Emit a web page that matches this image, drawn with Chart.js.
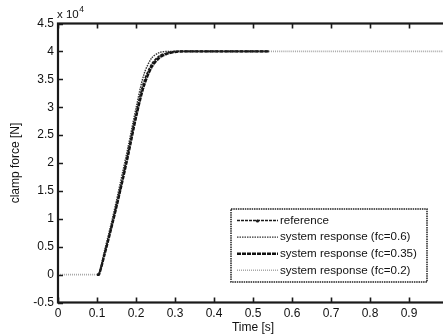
<!DOCTYPE html>
<html>
<head>
<meta charset="utf-8">
<script src="https://cdn.jsdelivr.net/npm/chart.js@4/dist/chart.umd.min.js"></script>
<style>
html,body{margin:0;padding:0;background:#fff;overflow:hidden;width:443px;height:336px;}
#wrap{position:absolute;left:0;top:0;width:450px;height:336px;}
</style>
</head>
<body>
<div id="wrap"><canvas id="c" width="450" height="336"></canvas></div>
<script>
// time samples [s]
const timeS = [0, 0.1, 0.105, 0.12, 0.14, 0.16, 0.18, 0.2, 0.22, 0.24, 0.26, 0.28, 0.3, 0.32, 0.35, 0.4, 0.45, 0.5, 0.54, 0.6, 0.7, 0.8, 0.9, 1.0];
// clamp force [N]
const referenceN = [null, 0, 0, 4000, 9500, 15500, 22000, 28800, 34500, 37700, 39200, 39700, 40000, 40000, 40000, 40000, 40000, 40000, 40000, null, null, null, null, null];
const fc060N     = [null, 0, 200, 4500, 10200, 16500, 23000, 29800, 35800, 38800, 39800, 40000, 40000, 40000, 40000, 40000, 40000, 40000, 40000, null, null, null, null, null];
const fc035N     = [null, 0, 0, 3800, 9300, 15200, 21500, 28200, 33800, 37200, 38900, 39600, 39900, 40000, 40000, 40000, 40000, 40000, 40000, null, null, null, null, null];
const fc020N     = [0, 0, 0, 3700, 9200, 15000, 21300, 28000, 33500, 37000, 38700, 39500, 39900, 40000, 40000, 40000, 40000, 40000, 40000, 40000, 40000, 40000, 40000, 40000];
const seriesLabels = ['reference', 'system response (fc=0.6)', 'system response (fc=0.35)', 'system response (fc=0.2)'];
const xTickValues = [0, 0.1, 0.2, 0.3, 0.4, 0.5, 0.6, 0.7, 0.8, 0.9];
const yTickValues = [-0.5, 0, 0.5, 1, 1.5, 2, 2.5, 3, 3.5, 4, 4.5];
const yExponent = 4;

const FONT = '"Liberation Sans", Arial, Helvetica, sans-serif';
const AXC = '#1a1a1a';

function pts(vals){ return timeS.map((t,i)=>({x:t,y:vals[i]})); }

const styles = [
  {borderColor:'#1a1a1a', borderWidth:1.6, borderDash:[3,1], marker:true},
  {borderColor:'#333', borderWidth:1.4, borderDash:[1.5,1]},
  {borderColor:'#111', borderWidth:2.4, borderDash:[4,1]},
  {borderColor:'#a8a8a8', borderWidth:1.6, borderDash:[1,1]}
];
const seriesVals = [referenceN, fc060N, fc035N, fc020N];

const datasets = seriesVals.map((v,i)=>({
  label: seriesLabels[i],
  data: pts(v),
  borderColor: styles[i].borderColor,
  borderWidth: styles[i].borderWidth,
  borderDash: styles[i].borderDash,
  pointRadius: 0,
  tension: 0.3,
  fill: false,
  spanGaps: false
}));

const framePlugin = {
  id:'frame',
  afterDraw(chart){
    const ctx = chart.ctx, a = chart.chartArea;
    const xs = chart.scales.x, ys = chart.scales.y;
    ctx.save();
    // frame
    ctx.strokeStyle = AXC; ctx.lineWidth = 2.2; ctx.setLineDash([]);
    ctx.strokeRect(a.left, a.top, a.right - a.left, a.bottom - a.top);
    // inward ticks
    ctx.lineWidth = 1.6;
    const tl = 5;
    ctx.beginPath();
    xTickValues.concat([1]).forEach(v=>{
      const px = Math.round(xs.getPixelForValue(v)) + 0.5;
      ctx.moveTo(px, a.bottom); ctx.lineTo(px, a.bottom - tl);
      ctx.moveTo(px, a.top); ctx.lineTo(px, a.top + tl);
    });
    yTickValues.forEach(v=>{
      const py = Math.round(ys.getPixelForValue(v * Math.pow(10, yExponent))) + 0.5;
      ctx.moveTo(a.left, py); ctx.lineTo(a.left + tl, py);
      ctx.moveTo(a.right, py); ctx.lineTo(a.right - tl, py);
    });
    ctx.stroke();

    // exponent label
    ctx.fillStyle = '#111';
    ctx.textBaseline = 'alphabetic';
    ctx.textAlign = 'left';
    ctx.font = '11.5px ' + FONT;
    ctx.fillText('x 10', 57, 17.5);
    const w = ctx.measureText('x 10').width;
    ctx.font = '8.5px ' + FONT;
    ctx.fillText(String(yExponent), 57 + w + 0.5, 12);

    // axis titles
    ctx.font = '12px ' + FONT;
    ctx.textAlign = 'center';
    ctx.textBaseline = 'middle';
    ctx.fillText('Time [s]', (a.left + xs.getPixelForValue(1)) / 2, 327.5);
    ctx.save();
    ctx.translate(16, (a.top + a.bottom) / 2);
    ctx.rotate(-Math.PI/2);
    ctx.fillText('clamp force [N]', 0, 0);
    ctx.restore();

    // legend
    const bx = 231, by = 209, bw = 196, bh = 73;
    ctx.fillStyle = '#fff';
    ctx.fillRect(bx, by, bw, bh);
    ctx.strokeStyle = '#222'; ctx.lineWidth = 1.5; ctx.setLineDash([1.5,0.8]);
    ctx.strokeRect(bx, by, bw, bh);
    ctx.font = '11.6px ' + FONT;
    ctx.textAlign = 'left'; ctx.textBaseline = 'middle';
    chart.data.datasets.forEach((ds,i)=>{
      const y = 220.5 + i * 16.6;
      ctx.strokeStyle = ds.borderColor;
      ctx.lineWidth = ds.borderWidth;
      ctx.setLineDash(ds.borderDash);
      ctx.beginPath(); ctx.moveTo(237, y); ctx.lineTo(278, y); ctx.stroke();
      if (styles[i].marker){
        ctx.setLineDash([]);
        ctx.fillStyle = ds.borderColor;
        ctx.beginPath(); ctx.arc(257.5, y + 0.5, 1.6, 0, Math.PI*2); ctx.fill();
      }
      ctx.fillStyle = '#111';
      ctx.fillText(ds.label, 280, y);
    });
    ctx.restore();
  }
};

new Chart(document.getElementById('c'), {
  type: 'line',
  data: { datasets },
  options: {
    responsive: false,
    animation: false,
    devicePixelRatio: 1,
    layout: { padding: { top: 23.5, right: 2, left: 0, bottom: 0 } },
    plugins: { legend: { display: false }, tooltip: { enabled: false } },
    scales: {
      x: {
        type: 'linear', min: 0, max: 1,
        afterFit(s){ s.height = 33.5; },
        afterBuildTicks(s){ s.ticks = xTickValues.map(v=>({value:v})); },
        grid: { display: true, drawOnChartArea: false, drawTicks: false },
        border: { display: false },
        ticks: {
          padding: 3.5,
          color: '#111',
          font: { family: FONT, size: 12 },
          maxRotation: 0,
          autoSkip: false,
          callback: v => String(Math.round(v * 10) / 10)
        }
      },
      y: {
        type: 'linear', min: -5000, max: 45000,
        afterFit(s){ s.width = 58; },
        afterBuildTicks(s){ s.ticks = yTickValues.map(v=>({value: v * Math.pow(10, yExponent)})); },
        grid: { display: true, drawOnChartArea: false, drawTicks: false },
        border: { display: false },
        ticks: {
          padding: 4,
          color: '#111',
          font: { family: FONT, size: 12 },
          autoSkip: false,
          callback: v => String(Math.round(v / Math.pow(10, yExponent) * 10) / 10)
        }
      }
    }
  },
  plugins: [framePlugin]
});
</script>
</body>
</html>
